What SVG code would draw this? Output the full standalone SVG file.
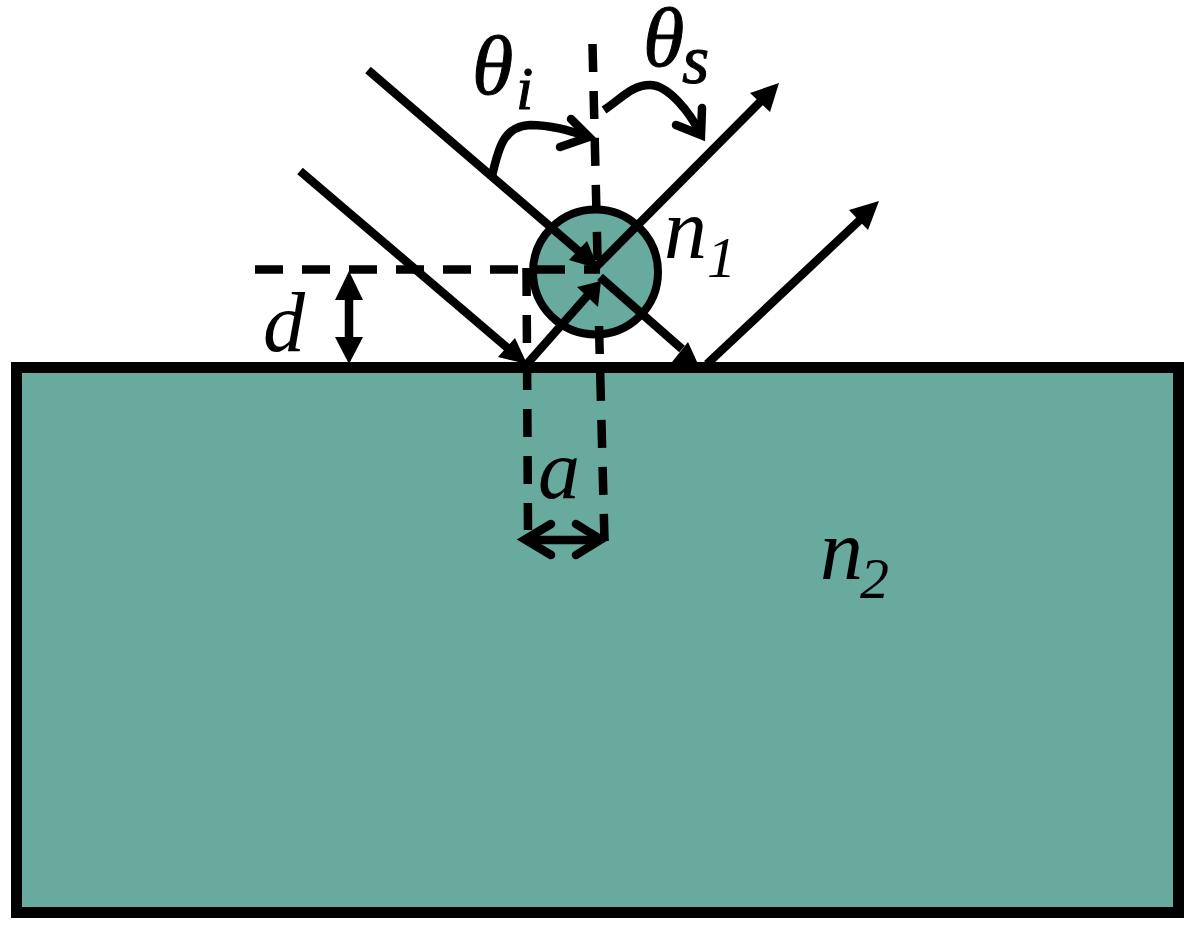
<svg xmlns="http://www.w3.org/2000/svg" width="1196" height="927" viewBox="0 0 1196 927">
<style>
.ray{fill:none;stroke:#000;stroke-width:8.500}
.dash{fill:none;stroke:#000;stroke-width:8.500;stroke-dasharray:28 19}
.open{fill:none;stroke:#000;stroke-width:8.500;stroke-linecap:round;stroke-linejoin:miter}
.head{fill:#000;stroke:none}
text{font-family:"Liberation Serif","DejaVu Serif",serif;font-style:italic;fill:#000}
.heavy{stroke:#000;stroke-width:1}
</style>
<rect width="1196" height="927" fill="#fff"/>
<g id="substrate"><rect x="16.500" y="367.500" width="1162" height="545" fill="#68aa9d" stroke="#000" stroke-width="11"/></g>
<g id="particle"><circle cx="595.500" cy="272" r="62.500" fill="#68aa9d" stroke="#000" stroke-width="8"/></g>
<g id="connectors">
<path class="dash" d="M592.500 44L598 279"/>
<path class="dash" d="M599 326L604.500 541"/>
<path class="dash" d="M526.500 268L528 530"/>
<path class="dash" d="M255 269.500H600"/>
<path class="ray" d="M368 70L582 254"/>
<path class="head" d="M599 269L569 260L587 241Z"/>
<path class="ray" d="M300 171L510 350"/>
<path class="head" d="M527 364L498 357L515 338Z"/>
<path class="ray" d="M527 364L588 295"/>
<path class="head" d="M601 281L577 287L598 307Z"/>
<path class="ray" d="M600 277L682 349"/>
<path class="head" d="M698 364L672 362L688 342Z"/>
<path class="ray" d="M592 271L762 100"/>
<path class="head" d="M779 83L750 93L770 112Z"/>
<path class="ray" d="M707 364L862 218"/>
<path class="head" d="M879 201L849 210L868 230Z"/>
<path class="ray" d="M492 176C498 150 503 126 530 125C552 125 570 131 589 137"/>
<path class="open" d="M571 119L589 137L560 147"/>
<path class="ray" d="M604 110C622 98 632 85 650 85C668 85 690 112 701 135"/>
<path class="open" d="M702 108L701 135L676 125"/>
<path class="ray" d="M349 285V348"/>
<path class="head" d="M349 271L363 300H335Z"/>
<path class="head" d="M349 364L363 337H335Z"/>
<path class="ray" d="M525 540H600"/>
<path class="open" d="M551 524L525 539.500L551 555"/>
<path class="open" d="M576 524L601 539.500L576 555"/>
</g>
<g id="labels">
<text class="heavy" x="472" y="94" font-size="84">θ</text>
<text class="heavy" x="516" y="109" font-size="62">i</text>
<text class="heavy" x="643" y="66" font-size="84">θ</text>
<text class="heavy" x="682" y="83" font-size="70">s</text>
<text x="664" y="258" font-size="86">n</text>
<text x="707" y="277" font-size="58">1</text>
<text x="263" y="351" font-size="84">d</text>
<text x="538" y="498" font-size="84">a</text>
<text x="820" y="579" font-size="86">n</text>
<text x="860" y="598" font-size="58">2</text>
</g>
</svg>
